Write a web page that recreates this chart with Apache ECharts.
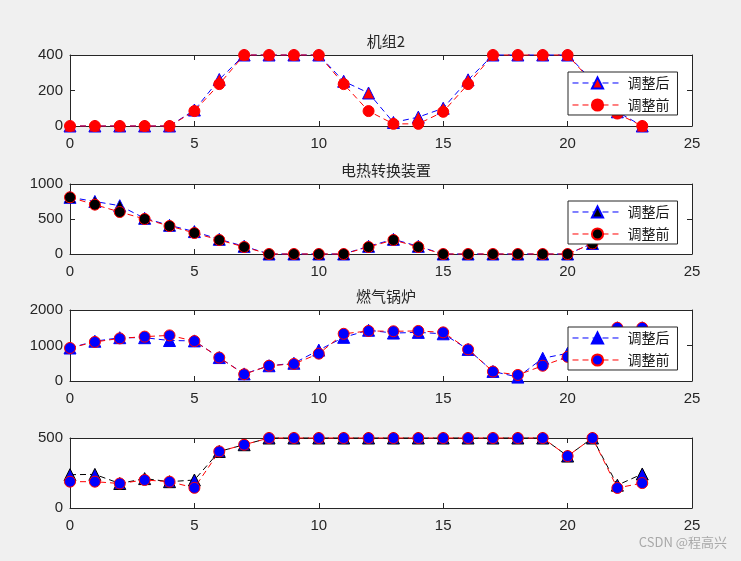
<!DOCTYPE html>
<html>
<head>
<meta charset="utf-8">
<script src="https://cdn.jsdelivr.net/npm/echarts@6/dist/echarts.min.js"></script>
<style>
html,body{margin:0;padding:0;background:#f0f0f0;}
#chart{width:741px;height:561px;}
</style>
</head>
<body>
<div id="chart"></div>
<script>
// ---- data ----
const hours = [0,1,2,3,4,5,6,7,8,9,10,11,12,13,14,15,16,17,18,19,20,21,22,23];
const titles = ['机组2', '电热转换装置', '燃气锅炉', ''];
const legendNames = ['调整后', '调整前'];

const unitAfter   = [0,0,0,0,0,90,262,400,400,400,400,252,186,20,50,100,260,400,400,400,400,255,80,0];
const unitBefore  = [0,0,0,0,0,84,236,400,400,400,400,236,84,12,12,80,236,400,400,400,400,245,70,0];

const heatAfter   = [810,750,690,510,410,320,210,110,0,0,0,0,110,210,110,0,0,0,0,0,0,150,300,400];
const heatBefore  = [810,705,600,500,400,300,200,100,0,0,0,0,100,200,100,0,0,0,0,0,0,150,300,400];

const boilerAfter  = [930,1120,1220,1220,1140,1130,660,200,430,500,870,1230,1430,1350,1370,1330,890,270,110,640,780,1150,1500,1500];
const boilerBefore = [930,1100,1200,1250,1285,1125,660,190,430,480,770,1330,1410,1400,1410,1370,890,265,170,430,680,1100,1500,1500];

const fourthAfter  = [238,240,175,210,188,200,404,452,500,500,500,500,500,500,500,500,500,500,500,500,371,500,163,243];
const fourthBefore = [188,188,175,200,188,144,404,452,500,500,500,500,500,500,500,500,500,500,500,500,371,500,143,178];

const yMax = [400, 1000, 2000, 500];
const yStep = [200, 500, 1000, 500];
const afterData = [unitAfter, heatAfter, boilerAfter, fourthAfter];
const beforeData = [unitBefore, heatBefore, boilerBefore, fourthBefore];

// ---- styles ----
const gridTops = [55, 184, 310, 438];
const gridH = [71, 70, 71, 70];
const afterStyle = [
  {line:'#0000ff', fill:'#ff0000', edge:'#0000ff'},
  {line:'#0000ff', fill:'#000000', edge:'#0000ff'},
  {line:'#0000ff', fill:'#0000ff', edge:'#0000ff'},
  {line:'#000000', fill:'#0000ff', edge:'#000000'}
];
const beforeStyle = [
  {line:'#ff0000', fill:'#ff0000', edge:'#ff0000'},
  {line:'#ff0000', fill:'#000000', edge:'#ff0000'},
  {line:'#ff0000', fill:'#0000ff', edge:'#ff0000'},
  {line:'#ff0000', fill:'#0000ff', edge:'#ff0000'}
];
const axisColor = '#262626';
const fontFam = 'Arial, "Liberation Sans", Helvetica, sans-serif';

const chart = echarts.init(document.getElementById('chart'), null, {renderer:'canvas'});

const grid = [], xAxis = [], yAxis = [], series = [], legend = [], title = [];
for (let i = 0; i < 4; i++) {
  grid.push({left:70, right:49, top:gridTops[i], height:gridH[i], show:true, backgroundColor:'#ffffff', borderWidth:0});
  const baseX = {
    type:'value', gridIndex:i, min:0, max:25, interval:5,
    axisLine:{show:true, onZero:false, lineStyle:{color:axisColor, width:1}},
    axisTick:{show:true, inside:true, length:5, lineStyle:{color:axisColor}},
    splitLine:{show:false}
  };
  xAxis.push(Object.assign({}, baseX, {position:'bottom',
    axisLabel:{show:true, margin:10, fontSize:15, color:axisColor, fontFamily:fontFam}}));
  xAxis.push(Object.assign({}, baseX, {position:'top', axisLabel:{show:false}}));
  const baseY = {
    type:'value', gridIndex:i, min:0, max:yMax[i], interval:yStep[i],
    axisLine:{show:true, onZero:false, lineStyle:{color:axisColor, width:1}},
    axisTick:{show:true, inside:true, length:5, lineStyle:{color:axisColor}},
    splitLine:{show:false}
  };
  yAxis.push(Object.assign({}, baseY, {position:'left',
    axisLabel:{show:true, margin:7, fontSize:15, color:axisColor, fontFamily:fontFam,
      formatter:(v)=>String(v)}}));
  yAxis.push(Object.assign({}, baseY, {position:'right', axisLabel:{show:false}}));

  const a = afterStyle[i], b = beforeStyle[i];
  series.push({
    name: legendNames[0] + '#' + i, type:'line', xAxisIndex:2*i, yAxisIndex:2*i,
    data: hours.map((h,k)=>[h, afterData[i][k]]),
    symbol:'triangle', symbolSize:12, clip:false,
    lineStyle:{color:a.line, width:1, type:[6,4]},
    itemStyle:{color:a.fill, borderColor:a.edge, borderWidth:1},
    emphasis:{disabled:true}, animation:false, z:2
  });
  series.push({
    name: legendNames[1] + '#' + i, type:'line', xAxisIndex:2*i, yAxisIndex:2*i,
    data: hours.map((h,k)=>[h, beforeData[i][k]]),
    symbol:'circle', symbolSize:11, clip:false,
    lineStyle:{color:b.line, width:1, type:[6,4]},
    itemStyle:{color:b.fill, borderColor:b.edge, borderWidth:1},
    emphasis:{disabled:true}, animation:false, z:3
  });
  if (i < 3) {
    legend.push({
      left:568, top:gridTops[i] + 17, orient:'vertical',
      data:[{name:legendNames[0] + '#' + i},{name:legendNames[1] + '#' + i}],
      formatter:(n)=>n.split('#')[0],
      itemWidth:50, itemHeight:14, itemGap:8,
      padding:[4,8,3,4],
      lineStyle:{width:1, type:[6,4]},
      backgroundColor:'#ffffff', borderColor:axisColor, borderWidth:1, borderRadius:0,
      textStyle:{fontSize:14, color:'#1a1a1a', fontFamily:'"Noto Sans CJK SC", sans-serif'},
      selectedMode:false, z:10
    });
  }
  if (titles[i]) {
    title.push({
      text:titles[i], left:381, top:gridTops[i]-26, textAlign:'center',
      textStyle:{fontSize:15, fontWeight:'normal', color:axisColor, fontFamily:'"Noto Sans CJK SC", sans-serif'}
    });
  }
}

chart.setOption({
  backgroundColor:'#f0f0f0',
  animation:false,
  title, grid, xAxis, yAxis, series, legend,
  graphic:[{
    type:'text', right:14, top:536,
    style:{text:'CSDN @程高兴', fontSize:13, fill:'#a8a8a8', fontFamily:'"Noto Sans CJK SC", sans-serif'}
  }]
});
</script>
</body>
</html>
